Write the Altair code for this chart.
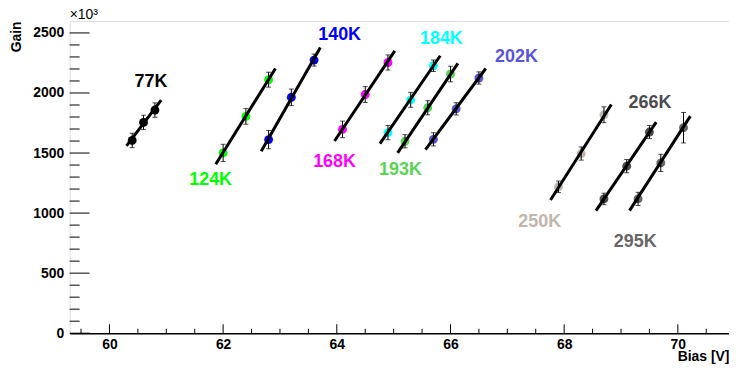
import altair as alt
import pandas as pd

# ---- data ----
temps = ["77K", "124K", "140K", "168K", "184K", "193K", "202K", "250K", "266K", "295K"]
colors = ["#000000", "#00ff00", "#0000ff", "#ff00ff", "#00ffff", "#59d454",
          "#5954d9", "#c0b6ac", "#4c4c4c", "#666666"]

bias = [
    [60.4, 60.6, 60.8],
    [62.0, 62.4, 62.8],
    [62.8, 63.2, 63.6],
    [64.1, 64.5, 64.9],
    [64.9, 65.3, 65.7],
    [65.2, 65.6, 66.0],
    [65.7, 66.1, 66.5],
    [67.9, 68.3, 68.7],
    [68.7, 69.1, 69.5],
    [69.3, 69.7, 70.1],
]
gain = [
    [1605, 1755, 1858],
    [1501, 1805, 2111],
    [1612, 1964, 2274],
    [1697, 1987, 2254],
    [1670, 1943, 2227],
    [1598, 1877, 2158],
    [1614, 1868, 2125],
    [1219, 1496, 1819],
    [1118, 1391, 1675],
    [1118, 1418, 1711],
]
gain_err = [
    [60, 60, 60],
    [72, 65, 62],
    [76, 69, 50],
    [69, 66, 63],
    [59, 62, 48],
    [55, 59, 65],
    [55, 51, 51],
    [48, 55, 66],
    [48, 55, 55],
    [55, 72, 127],
]
# fit lines: (bias start, bias end, gain start, gain end)
fit_x0 = [60.30, 61.87, 62.67, 63.96, 64.76, 65.07, 65.56, 67.76, 68.56, 69.15]
fit_x1 = [60.91, 62.92, 63.71, 65.02, 65.82, 66.13, 66.62, 68.83, 69.62, 70.22]
fit_y0 = [1559, 1407, 1515, 1600, 1579, 1501, 1529, 1109, 1021, 1021]
fit_y1 = [1940, 2204, 2378, 2351, 2310, 2246, 2204, 1904, 1757, 1807]

# temperature label anchors (data coordinates)
label_x = [60.73, 61.78, 64.05, 63.96, 65.84, 65.12, 67.16, 67.57, 69.51, 69.25]
label_y = [2088, 1275, 2481, 1426, 2453, 1358, 2301, 925, 1915, 759]

x_labels = [60, 62, 64, 66, 68, 70]
y_labels = [0, 500, 1000, 1500, 2000, 2500]
x_minor = [59.5, 60.5, 61, 61.5, 62.5, 63, 63.5, 64.5, 65, 65.5, 66.5, 67,
           67.5, 68.5, 69, 69.5, 70.5]
y_minor = [v for v in range(100, 2600, 100) if v % 500 != 0]

# ---- tables ----
pts = []
for t, bs, gs, es in zip(temps, bias, gain, gain_err):
    for b, g, e in zip(bs, gs, es):
        pts.append({"t": t, "x": b, "y": g, "lo": g - e, "hi": g + e})
pts = pd.DataFrame(pts)

fits = []
for t, a, b, c, d in zip(temps, fit_x0, fit_x1, fit_y0, fit_y1):
    fits.append({"t": t, "x": a, "y": c, "o": 0})
    fits.append({"t": t, "x": b, "y": d, "o": 1})
fits = pd.DataFrame(fits)

labs = pd.DataFrame({"t": temps, "x": label_x, "y": label_y})

W, H = 663, 314
FONT = "Liberation Sans"

xscale = alt.Scale(domain=[59.3, 70.9], nice=False, zero=False)
yscale = alt.Scale(domain=[0, 2600], nice=False)

xaxis = alt.Axis(values=x_labels, format="d", grid=False, ticks=False, tickSize=0,
                 domain=True, domainColor="black", domainWidth=1.5,
                 labelFont=FONT, labelFontWeight="bold", labelFontSize=14,
                 labelColor="black", labelPadding=4,
                 title="Bias [V]", titleFont=FONT, titleFontWeight="bold",
                 titleFontSize=14, titleColor="black", titleAlign="right",
                 titleAnchor="end", titleX=W, titleY=16, titleBaseline="top")
yaxis = alt.Axis(values=y_labels, format="d", grid=False, ticks=False, tickSize=0,
                 domain=False,
                 labelFont=FONT, labelFontWeight="bold", labelFontSize=14,
                 labelColor="black", labelPadding=6,
                 title="Gain", titleFont=FONT, titleFontWeight="bold",
                 titleFontSize=14, titleColor="black", titleAngle=270,
                 titleAlign="right", titleBaseline="middle", titleX=-53, titleY=0)


def X(field="x"):
    return alt.X(f"{field}:Q", scale=xscale, axis=xaxis)


def Y(field="y"):
    return alt.Y(f"{field}:Q", scale=yscale, axis=yaxis)


color = alt.Color("t:N", scale=alt.Scale(domain=temps, range=colors), legend=None)

points = alt.Chart(pts).mark_circle(size=80, opacity=1).encode(x=X(), y=Y(), color=color)
bars = alt.Chart(pts).mark_rule(color="black", strokeWidth=1).encode(
    x=X(), y=Y("lo"), y2="hi:Q")
cap_lo = alt.Chart(pts).mark_tick(color="black", orient="horizontal", size=5,
                                  thickness=1).encode(x=X(), y=Y("lo"))
cap_hi = alt.Chart(pts).mark_tick(color="black", orient="horizontal", size=5,
                                  thickness=1).encode(x=X(), y=Y("hi"))
lines = alt.Chart(fits).mark_line(color="black", strokeWidth=3).encode(
    x=X(), y=Y(), detail="t:N", order="o:Q")
texts = alt.Chart(labs).mark_text(font=FONT, fontWeight="bold", fontSize=18,
                                  align="center", baseline="middle").encode(
    x=X(), y=Y(), text="t:N", color=color)

ymaj = alt.Chart(pd.DataFrame({"y": y_labels})).mark_rule(color="black").encode(
    y=Y(), x=alt.value(0), x2=alt.value(20))
ymin = alt.Chart(pd.DataFrame({"y": y_minor})).mark_rule(color="black").encode(
    y=Y(), x=alt.value(0), x2=alt.value(10))
xmaj = alt.Chart(pd.DataFrame({"x": x_labels})).mark_rule(color="black").encode(
    x=X(), y=alt.value(H), y2=alt.value(H - 9))
xmin = alt.Chart(pd.DataFrame({"x": x_minor})).mark_rule(color="black").encode(
    x=X(), y=alt.value(H), y2=alt.value(H - 4.5))

chart = alt.layer(ymaj, ymin, xmaj, xmin, points, bars, cap_lo, cap_hi, lines, texts).properties(
    width=W, height=H,
    autosize=alt.AutoSizeParams(type="none"),
    padding={"left": 62, "top": 12, "right": 0, "bottom": 36},
    title=alt.TitleParams("×10³", anchor="start", frame="group", font=FONT,
                          fontSize=14, fontWeight="normal", color="black",
                          offset=-1),
).configure_view(stroke="black", strokeWidth=1).configure(background="white")

chart.save("out.html", embed_options={"renderer": "svg", "actions": False})
